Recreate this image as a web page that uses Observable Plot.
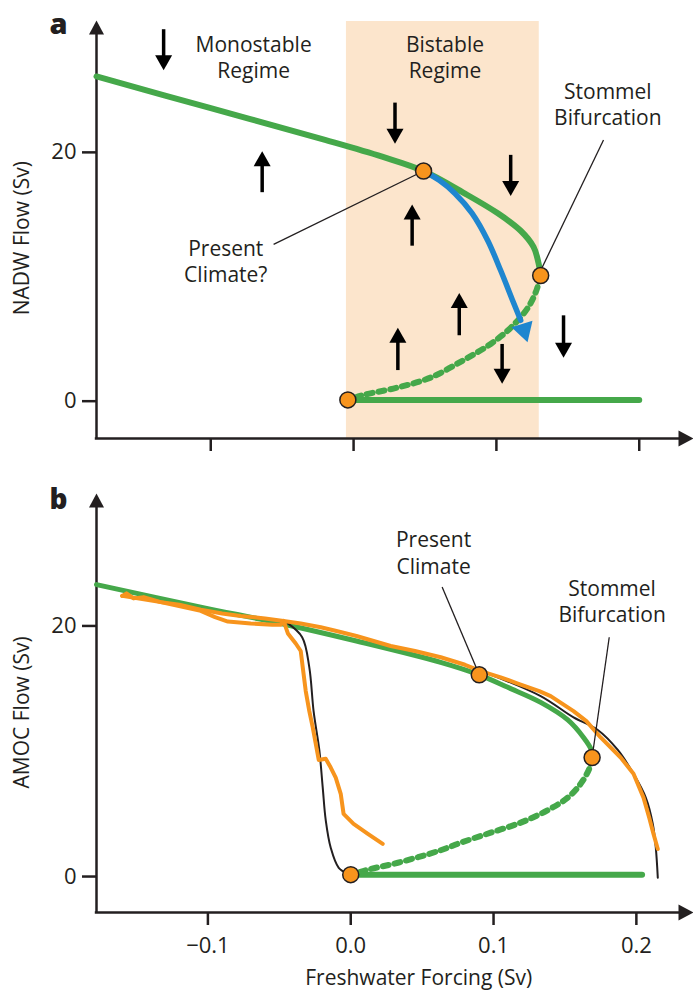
<!DOCTYPE html>
<html><head><meta charset="utf-8">
<script src="https://cdn.jsdelivr.net/npm/d3@7"></script>
<script src="https://cdn.jsdelivr.net/npm/@observablehq/plot@0.6"></script>
<style>
body{margin:0;background:#fff;}
#chart{width:693px;}
#chart svg{display:block;}
</style></head><body><div id="chart"></div>
<script>
// ---------- shared ----------
const xTicks = [-0.1, 0, 0.1, 0.2];
const yTicks = [0, 20];
const xTitle = "Freshwater Forcing (Sv)";

// ---------- panel a ----------
const aStable = [[-0.18,26.1],[-0.1,23.55],[-0.02,21.0],[0.02,19.65],[0.049,18.5],[0.077,16.75],[0.101,15.1],[0.117,13.7],[0.126,12.4],[0.1295,11.1],[0.131,10.1]];
const aUnstable = [[0.131,10.1],[0.128,8.9],[0.122,7.5],[0.110,5.9],[0.096,4.6],[0.077,3.3],[0.054,1.9],[0.031,1.1],[0.007,0.5],[-0.004,0.1]];
const aOff = [[-0.004,0.1],[0.2,0.1]];
const aBand = [[-0.005, 0.130]];
const aDots = [[0.049,18.5],[0.131,10.1],[-0.004,0.1]];
const aBlue = [[0.049,18.5],[0.060,17.75],[0.071,16.7],[0.083,15.1],[0.094,12.9],[0.103,10.5],[0.111,8.2],[0.117,6.5]];
const aBlueTip = [[0.1218,4.74]];
const aArrowsDown = [[-0.133,29.9,26.6],[0.029,24.0,20.7],[0.110,19.8,16.5],[0.147,6.9,3.5],[0.104,4.6,1.4]]; // x, tail, tip
const aArrowsUp = [[-0.064,16.8,20.1],[0.041,12.5,15.8],[0.074,5.3,8.7],[0.031,2.5,5.9]];
const aLabels = [
  {x:-0.070, y:27.7, text:"Monostable\nRegime"},
  {x:0.064, y:27.7, text:"Bistable\nRegime"},
  {x:0.178, y:23.9, text:"Stommel\nBifurcation"},
  {x:-0.0895, y:11.3, text:"Present\nClimate?"}
];
const aLeaders = [[-0.056,12.6,0.049,18.5],[0.175,21.0,0.131,10.5]];
const aYTitle = "NADW Flow (Sv)";

// ---------- panel b ----------
const bStable = [[-0.178,23.3],[-0.105,21.5],[-0.049,20.2],[0.004,18.8],[0.063,17.1],[0.090,16.1],[0.110,15.1],[0.133,13.9],[0.152,12.5],[0.163,11.1],[0.1685,10.1],[0.169,9.5]];
const bUnstable = [[0.169,9.5],[0.167,8.6],[0.161,7.4],[0.152,6.3],[0.138,5.3],[0.119,4.3],[0.098,3.5],[0.077,2.7],[0.063,2.1],[0.033,1.1],[0.014,0.6],[0,0.15]];
const bOff = [[0,0.15],[0.204,0.15]];
const bModelLeft = [[-0.044,20.2],[-0.034,19.1],[-0.029,16.7],[-0.026,13.2],[-0.022,10.1],[-0.0196,7.1],[-0.0175,4.5],[-0.014,2.3],[-0.0084,0.7],[-0.002,0.24]];
const bModelRight = [[0.096,16.2],[0.133,14.4],[0.156,12.7],[0.173,11.7],[0.187,10.1],[0.198,8.2],[0.2066,6.3],[0.2115,4.2],[0.2136,2.3],[0.215,-0.1]];
const bHosingUp = [[-0.160,22.4],[-0.157,22.6],[-0.152,22.2],[-0.145,22.3],[-0.133,21.9],[-0.12,21.7],[-0.105,21.3],[-0.09,21.0],[-0.077,20.8],[-0.06,20.6],[-0.047,20.4],[-0.035,20.2],[-0.021,19.9],[-0.01,19.6],[0.004,19.2],[0.028,18.4],[0.045,18.0],[0.063,17.5],[0.08,16.9],[0.091,16.4],[0.105,15.9],[0.117,15.4],[0.132,14.8],[0.14,14.4],[0.148,13.8],[0.156,13.2],[0.165,12.4],[0.175,11.1],[0.189,9.5],[0.198,8.2],[0.205,6.3],[0.209,4.7],[0.212,3.4],[0.215,2.2]];
const bHosingDown = [[-0.160,22.4],[-0.133,21.9],[-0.105,21.2],[-0.095,20.7],[-0.086,20.35],[-0.070,20.2],[-0.055,20.1],[-0.049,20.1],[-0.047,20.4],[-0.044,19.4],[-0.0385,18.6],[-0.035,18.0],[-0.0336,16.7],[-0.0315,14.8],[-0.029,13.2],[-0.0266,11.9],[-0.0245,10.6],[-0.0224,9.3],[-0.0175,9.4],[-0.014,8.7],[-0.0105,7.9],[-0.007,6.6],[-0.005,5.0],[0.002,4.2],[0.012,3.4],[0.0224,2.6]];
const bDots = [[0.090,16.1],[0.169,9.5],[0,0.15]];
const bLabels = [
  {x:0.058, y:25.9, text:"Present\nClimate"},
  {x:0.183, y:22.0, text:"Stommel\nBifurcation"}
];
const bLeaders = [[0.064,23.1,0.090,16.1],[0.181,19.1,0.169,9.5]];
const bYTitle = "AMOC Flow (Sv)";

// ---------- styles ----------
const GREEN = "#45a84a", ORANGE = "#f7941d", BLUE = "#1f86cf", INK = "#231f20", BAND = "#fce5cc";
const FONT = "'Open Sans', 'Noto Sans', sans-serif";

function tri(angle, w, h) {
  const a = angle * Math.PI / 180;
  const dx = Math.sin(a), dy = -Math.cos(a), px = Math.cos(a), py = Math.sin(a);
  return {draw(ctx) {
    const bx = -h * dx, by = -h * dy;
    ctx.moveTo(0, 0);
    ctx.lineTo(bx + w / 2 * px, by + w / 2 * py);
    ctx.lineTo(bx - w / 2 * px, by - w / 2 * py);
    ctx.closePath();
  }};
}

function axesMarks(xDom, yDom, pxX, pxY, showXLabels) {
  const [x0, x1] = xDom, [y0, y1] = yDom;
  return [
    Plot.ruleX([x0], {y1: () => y0, y2: () => y1 - 10 / pxY, stroke: INK, strokeWidth: 2.5}),
    Plot.ruleY([y0], {x1: () => x0 - 1.2 / pxX, x2: () => x1 - 10 / pxX, stroke: INK, strokeWidth: 2.5}),
    Plot.dot([[x0, y1]], {x: d => d[0], y: d => d[1], symbol: tri(0, 15, 14), fill: INK, stroke: "none", r: 5}),
    Plot.dot([[x1, y0]], {x: d => d[0], y: d => d[1], symbol: tri(90, 16, 15), fill: INK, stroke: "none", r: 5}),
    Plot.axisY(yTicks, {tickSize: 14, tickPadding: 6, fontSize: 22, strokeWidth: 2.5, label: null, stroke: INK, fill: INK}),
    Plot.axisX(xTicks, {tickSize: 13, tickPadding: 12, fontSize: 22, strokeWidth: 2.5, label: null,
      tickFormat: showXLabels ? d3.format(".1f") : () => "", stroke: INK, fill: INK})
  ];
}

function arrowMarks(down, up, pxY) {
  const hl = 12 / pxY;
  return [
    Plot.link(down, {x1: d => d[0], x2: d => d[0], y1: d => d[1], y2: d => d[2] + hl, stroke: "black", strokeWidth: 3.5}),
    Plot.dot(down, {x: d => d[0], y: d => d[2], symbol: tri(180, 17, 15), fill: "black", stroke: "none", r: 5}),
    Plot.link(up, {x1: d => d[0], x2: d => d[0], y1: d => d[1], y2: d => d[2] - hl, stroke: "black", strokeWidth: 3.5}),
    Plot.dot(up, {x: d => d[0], y: d => d[2], symbol: tri(0, 17, 15), fill: "black", stroke: "none", r: 5})
  ];
}

const W = 693, ML = 96;
const xDomA = [-0.18, 0.238], yDomA = [-3, 30.6], HA = 465, mTA = 20, mBA = 27;
const pxXA = (W - ML) / (xDomA[1] - xDomA[0]);
const pxYA = (HA - mTA - mBA) / (yDomA[1] - yDomA[0]);
const xDomB = [-0.178, 0.24], yDomB = [-2.87, 30.57], HB = 527, mTB = 28, mBB = 80;
const pxXB = (W - ML) / (xDomB[1] - xDomB[0]);
const pxYB = (HB - mTB - mBB) / (yDomB[1] - yDomB[0]);

const X = d => d[0], Y = d => d[1];

const plotA = Plot.plot({
  width: W, height: HA,
  marginLeft: ML, marginRight: 0, marginTop: mTA, marginBottom: mBA,
  x: {domain: xDomA}, y: {domain: yDomA},
  style: {fontFamily: FONT, color: INK, background: "white", overflow: "visible"},
  marks: [
    Plot.rect(aBand, {x1: d => d[0], x2: d => d[1], y1: () => yDomA[0], y2: () => yDomA[1] - 1 / pxYA, fill: BAND}),
    ...axesMarks(xDomA, yDomA, pxXA, pxYA, false),
    Plot.line(aStable, {x: X, y: Y, stroke: GREEN, strokeWidth: 6, curve: "catmull-rom"}),
    Plot.line(aUnstable, {x: X, y: Y, stroke: GREEN, strokeWidth: 6, strokeDasharray: "6 6", curve: "catmull-rom"}),
    Plot.line(aOff, {x: X, y: Y, stroke: GREEN, strokeWidth: 6}),
    Plot.line(aBlue, {x: X, y: Y, stroke: BLUE, strokeWidth: 5.5, curve: "catmull-rom"}),
    Plot.dot(aBlueTip, {x: X, y: Y, symbol: tri(163, 22, 19), fill: BLUE, stroke: "none", r: 5}),
    ...arrowMarks(aArrowsDown, aArrowsUp, pxYA),
    Plot.link(aLeaders, {x1: d => d[0], y1: d => d[1], x2: d => d[2], y2: d => d[3], stroke: INK, strokeWidth: 1.3}),
    Plot.dot(aDots, {x: X, y: Y, r: 8, fill: ORANGE, stroke: INK, strokeWidth: 1.5}),
    Plot.text(aLabels, {x: "x", y: "y", text: "text", fontSize: 21, lineHeight: 1.25, fill: INK}),
    Plot.text([aYTitle], {x: () => xDomA[0], y: () => 13.1, text: d => d, rotate: -90, dx: -74, fontSize: 21, fill: INK}),
    Plot.text(["a"], {frameAnchor: "top-left", text: d => d, dx: -38, dy: 13, lineAnchor: "bottom", textAnchor: "middle", fontSize: 29, fontWeight: 800, fill: INK})
  ]
});

const plotB = Plot.plot({
  width: W, height: HB,
  marginLeft: ML, marginRight: 0, marginTop: mTB, marginBottom: mBB,
  x: {domain: xDomB}, y: {domain: yDomB},
  style: {fontFamily: FONT, color: INK, background: "white", overflow: "visible"},
  marks: [
    ...axesMarks(xDomB, yDomB, pxXB, pxYB, true),
    Plot.line(bStable, {x: X, y: Y, stroke: GREEN, strokeWidth: 5, curve: "catmull-rom"}),
    Plot.line(bUnstable, {x: X, y: Y, stroke: GREEN, strokeWidth: 6, strokeDasharray: "6 6", curve: "catmull-rom"}),
    Plot.line(bOff, {x: X, y: Y, stroke: GREEN, strokeWidth: 6}),
    Plot.line(bModelLeft, {x: X, y: Y, stroke: INK, strokeWidth: 2, curve: "catmull-rom"}),
    Plot.line(bModelRight, {x: X, y: Y, stroke: INK, strokeWidth: 2, curve: "catmull-rom"}),
    Plot.line(bHosingUp, {x: X, y: Y, stroke: ORANGE, strokeWidth: 4, strokeLinejoin: "round"}),
    Plot.line(bHosingDown, {x: X, y: Y, stroke: ORANGE, strokeWidth: 4, strokeLinejoin: "round"}),
    Plot.link(bLeaders, {x1: d => d[0], y1: d => d[1], x2: d => d[2], y2: d => d[3], stroke: INK, strokeWidth: 1.3}),
    Plot.dot(bDots, {x: X, y: Y, r: 8, fill: ORANGE, stroke: INK, strokeWidth: 1.5}),
    Plot.text(bLabels, {x: "x", y: "y", text: "text", fontSize: 21, lineHeight: 1.25, fill: INK}),
    Plot.text([bYTitle], {x: () => xDomB[0], y: () => 13.1, text: d => d, rotate: -90, dx: -74, fontSize: 21, fill: INK}),
    Plot.text([xTitle], {x: () => 0.0476, y: () => -8.1, text: d => d, fontSize: 21, fill: INK}),
    Plot.text(["b"], {frameAnchor: "top-left", text: d => d, dx: -38, dy: 15, lineAnchor: "bottom", textAnchor: "middle", fontSize: 28, fontWeight: 800, fill: INK})
  ]
});

const chart = document.getElementById("chart");
chart.appendChild(plotA);
chart.appendChild(plotB);
</script></body></html>
